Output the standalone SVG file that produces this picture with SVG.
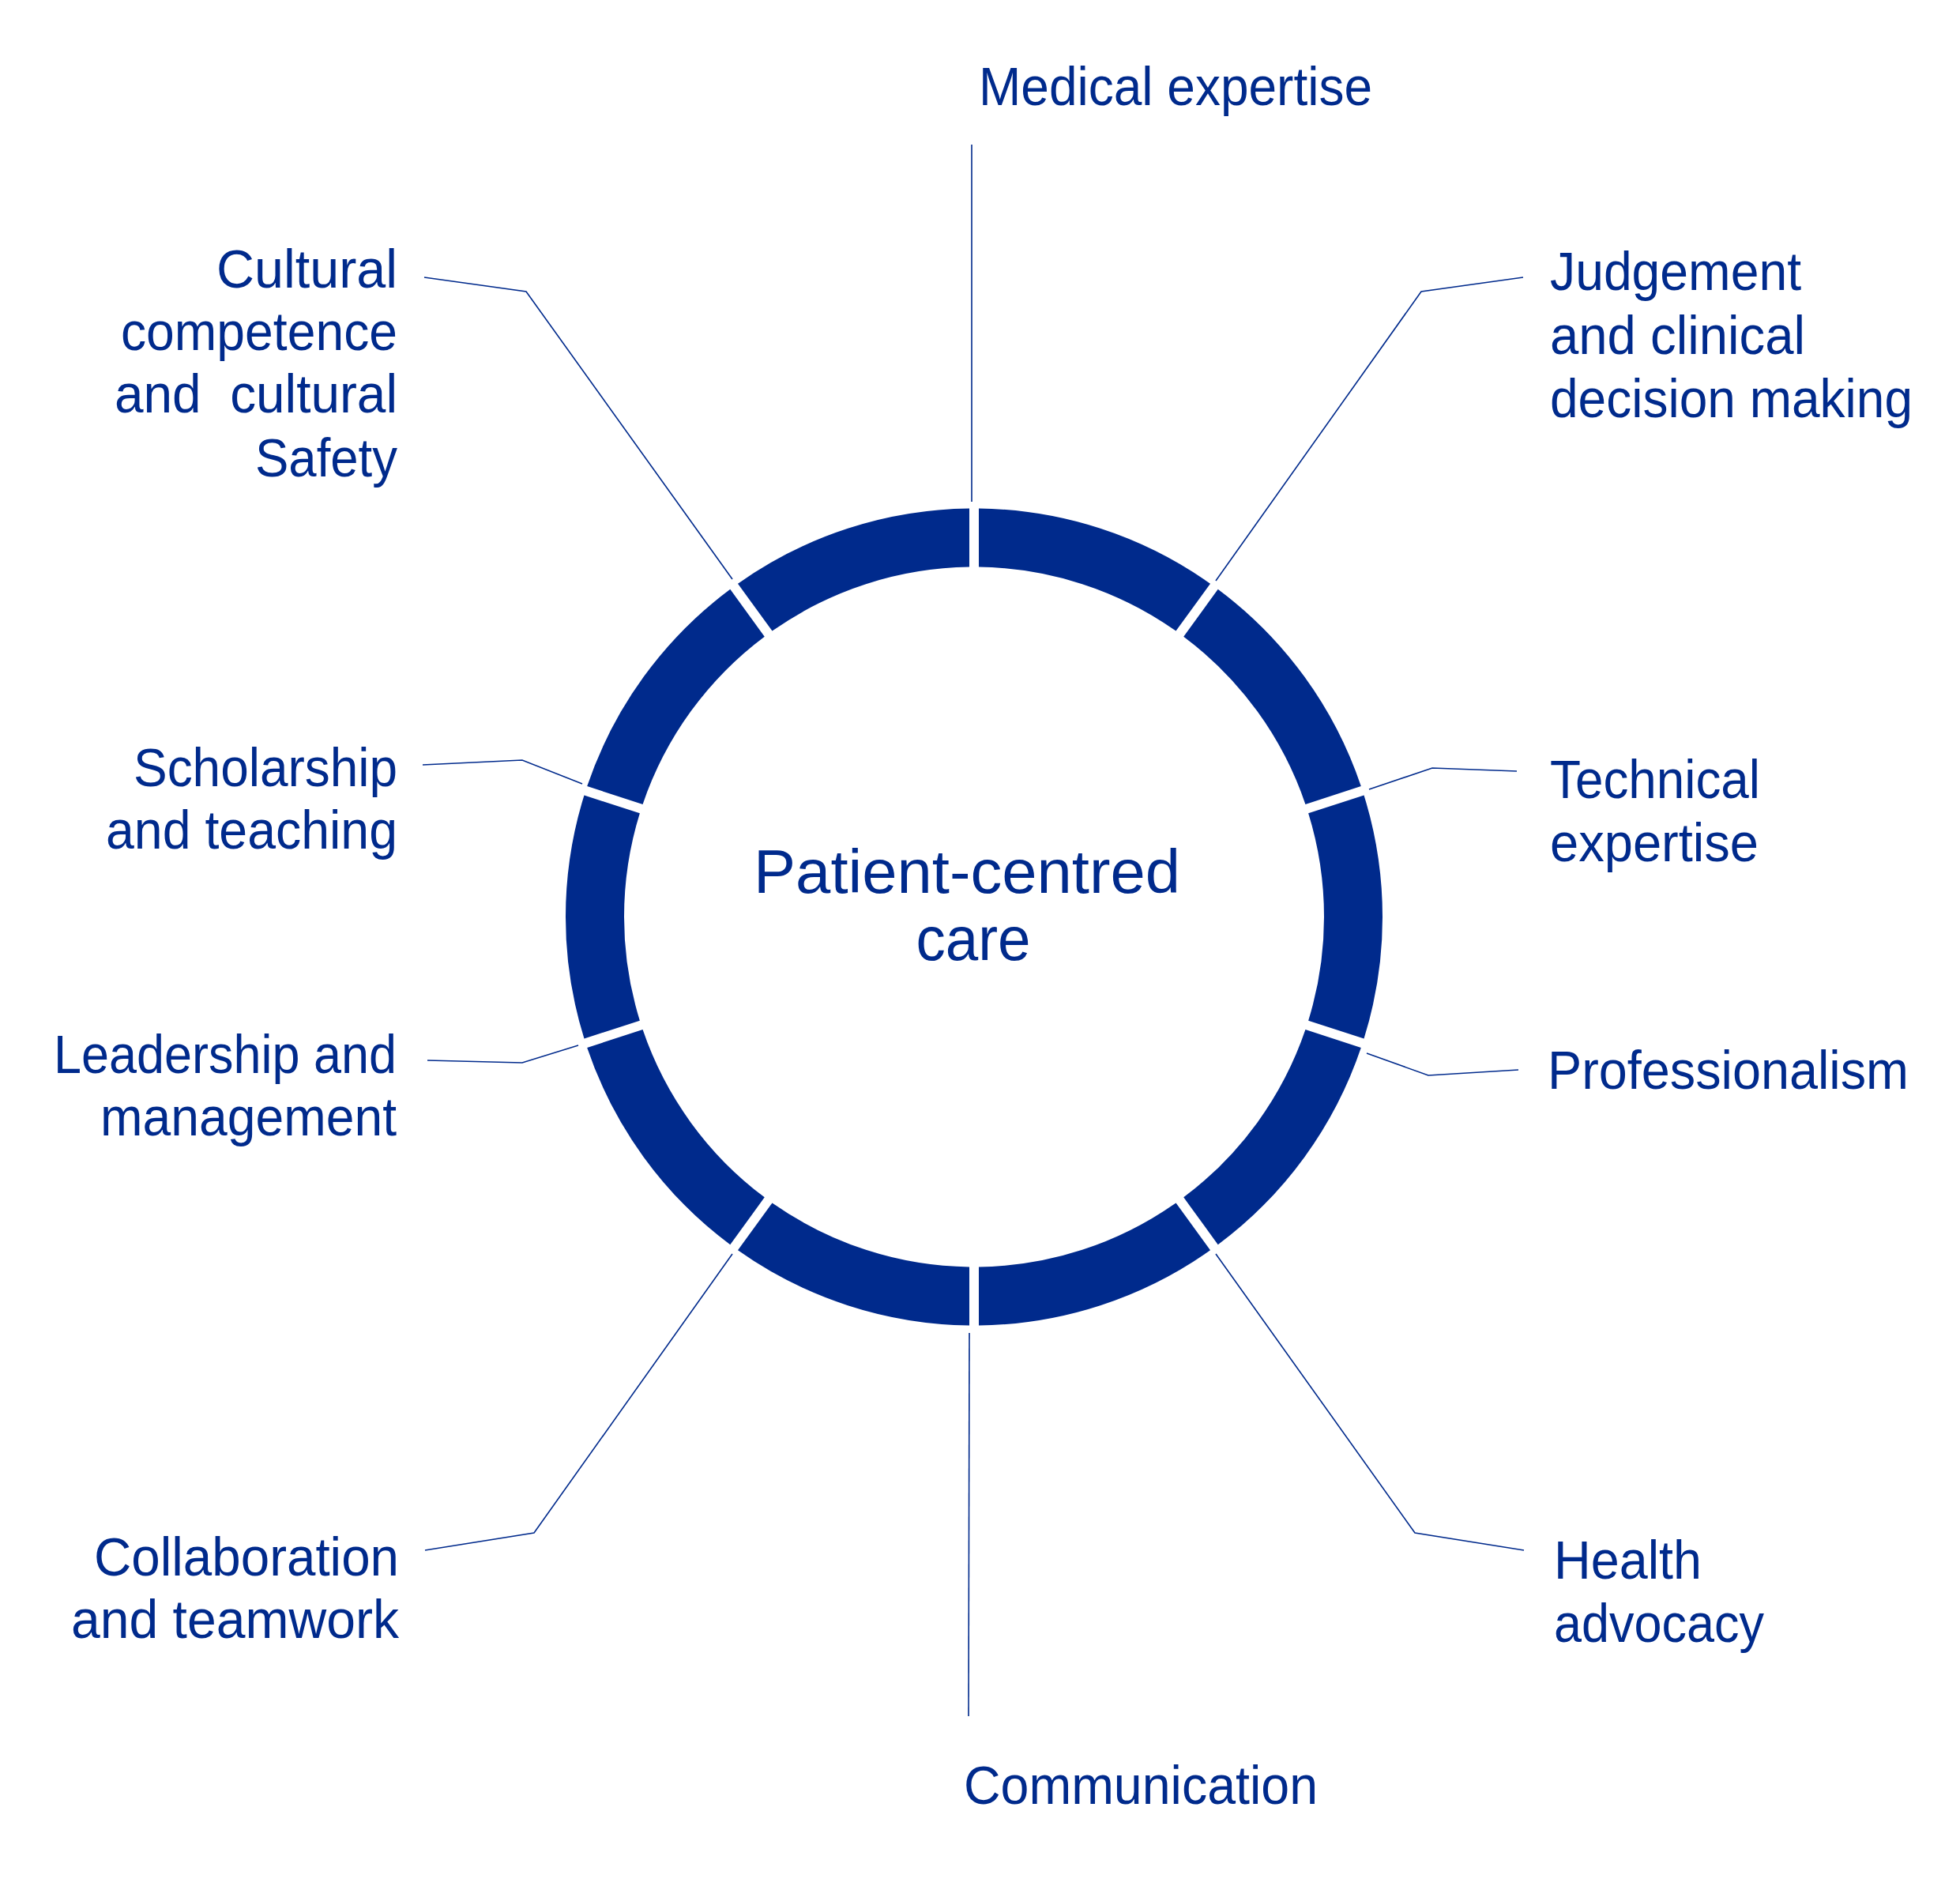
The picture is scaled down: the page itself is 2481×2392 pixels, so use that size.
<svg xmlns="http://www.w3.org/2000/svg" xmlns:xlink="http://www.w3.org/1999/xlink" width="2481" height="2392" viewBox="0 0 2481 2392">
<style>
.lbl{font-family:"Liberation Sans",Arial,sans-serif;font-size:68px;fill:#002A8C;}
.ctr{font-family:"Liberation Sans",Arial,sans-serif;font-size:78px;fill:#002A8C;text-anchor:middle;}
.end{text-anchor:end;}
.seg{fill:#002A8C;}
.con{fill:none;stroke:#002A8C;stroke-width:1.6;}
</style>
<defs>
<path id="seg" d="M1239,643.54 A517,517 0 0 1 1532.01,738.74 L1488.51,798.61 A443,443 0 0 0 1239,717.54 Z"/>
</defs>
<rect width="2481" height="2392" fill="#FFFFFF"/>
<g id="ring" class="seg">
<use xlink:href="#seg"/>
<use xlink:href="#seg" transform="rotate(36 1233 1160.5)"/>
<use xlink:href="#seg" transform="rotate(72 1233 1160.5)"/>
<use xlink:href="#seg" transform="rotate(108 1233 1160.5)"/>
<use xlink:href="#seg" transform="rotate(144 1233 1160.5)"/>
<use xlink:href="#seg" transform="rotate(180 1233 1160.5)"/>
<use xlink:href="#seg" transform="rotate(216 1233 1160.5)"/>
<use xlink:href="#seg" transform="rotate(252 1233 1160.5)"/>
<use xlink:href="#seg" transform="rotate(288 1233 1160.5)"/>
<use xlink:href="#seg" transform="rotate(324 1233 1160.5)"/>
</g>
<g id="connectors" class="con">
<polyline points="1230,183 1230,635"/>
<polyline points="1928,351 1799,369 1539,735"/>
<polyline points="1920,976 1813,972 1733,999"/>
<polyline points="1922,1354 1808,1361 1730,1333"/>
<polyline points="1929,1962 1791,1940 1539,1587"/>
<polyline points="1227,1687 1226,2172"/>
<polyline points="538,1962 676,1940 927,1587"/>
<polyline points="541,1342 661,1345 732,1323"/>
<polyline points="535,968 661,962 737,992"/>
<polyline points="537,351 666,369 927,733"/>
</g>
<g id="center">
<text class="ctr" x="1224" y="1130" textLength="540" lengthAdjust="spacingAndGlyphs">Patient-centred</text>
<text class="ctr" x="1232" y="1215" textLength="145" lengthAdjust="spacingAndGlyphs">care</text>
</g>
<g id="medical-expertise">
<text class="lbl" x="1239" y="133" textLength="498" lengthAdjust="spacingAndGlyphs">Medical expertise</text>
</g>
<g id="judgement">
<text class="lbl" x="1962" y="367" textLength="318" lengthAdjust="spacingAndGlyphs">Judgement</text>
<text class="lbl" x="1962" y="448" textLength="323" lengthAdjust="spacingAndGlyphs">and clinical</text>
<text class="lbl" x="1962" y="528" textLength="459" lengthAdjust="spacingAndGlyphs">decision making</text>
</g>
<g id="technical-expertise">
<text class="lbl" x="1962" y="1010" textLength="266" lengthAdjust="spacingAndGlyphs">Technical</text>
<text class="lbl" x="1962" y="1090" textLength="264" lengthAdjust="spacingAndGlyphs">expertise</text>
</g>
<g id="professionalism">
<text class="lbl" x="1959" y="1378" textLength="457" lengthAdjust="spacingAndGlyphs">Professionalism</text>
</g>
<g id="health-advocacy">
<text class="lbl" x="1967" y="1998" textLength="187" lengthAdjust="spacingAndGlyphs">Health</text>
<text class="lbl" x="1967" y="2078" textLength="266" lengthAdjust="spacingAndGlyphs">advocacy</text>
</g>
<g id="communication">
<text class="lbl" x="1220" y="2283" textLength="448" lengthAdjust="spacingAndGlyphs">Communication</text>
</g>
<g id="collaboration">
<text class="lbl end" x="505" y="1994" textLength="386" lengthAdjust="spacingAndGlyphs">Collaboration</text>
<text class="lbl end" x="505" y="2073" textLength="415" lengthAdjust="spacingAndGlyphs">and teamwork</text>
</g>
<g id="leadership">
<text class="lbl end" x="502" y="1358" textLength="434" lengthAdjust="spacingAndGlyphs">Leadership and</text>
<text class="lbl end" x="502" y="1437" textLength="375" lengthAdjust="spacingAndGlyphs">management</text>
</g>
<g id="scholarship">
<text class="lbl end" x="503" y="995" textLength="334" lengthAdjust="spacingAndGlyphs">Scholarship</text>
<text class="lbl end" x="503" y="1074" textLength="369" lengthAdjust="spacingAndGlyphs">and teaching</text>
</g>
<g id="cultural">
<text class="lbl end" x="503" y="364" textLength="229" lengthAdjust="spacingAndGlyphs">Cultural</text>
<text class="lbl end" x="503" y="443" textLength="350" lengthAdjust="spacingAndGlyphs">competence</text>
<text class="lbl end" x="503" y="522" textLength="358" lengthAdjust="spacingAndGlyphs" xml:space="preserve">and  cultural</text>
<text class="lbl end" x="503" y="603" textLength="180" lengthAdjust="spacingAndGlyphs">Safety</text>
</g>
</svg>
